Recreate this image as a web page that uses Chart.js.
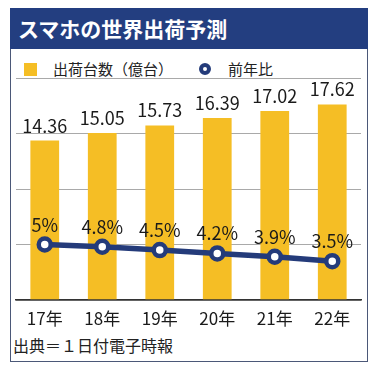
<!DOCTYPE html>
<html lang="ja">
<head>
    <meta charset="UTF-8">
    <title>スマホの世界出荷予測</title>
    <script src="https://cdn.jsdelivr.net/npm/chart.js@4/dist/chart.umd.min.js"></script>
    <style>
        body { margin: 0; background: #fff; font-family: 'Noto Sans CJK JP', sans-serif; }
        #wrap { position: relative; width: 379px; height: 369px; overflow: hidden; }
        #frame { position: absolute; left: 10px; top: 8px; width: 356px; height: 352px; border: 1px solid #4b5878; }
        #title { position: absolute; left: 10px; top: 8px; width: 358px; height: 41px; background: #233e80;
                 color: #fff; font-weight: bold; font-size: 21px; line-height: 41px; text-indent: 8px; }
        .lg { position: absolute; top: 60px; font-size: 15px; line-height: 18px; color: #222; }
        .sq { position: absolute; left: 24px; top: 63px; width: 13px; height: 13px; background: #f5be25; }
        .ring { position: absolute; left: 199px; top: 63px; width: 4px; height: 4px; border: 4px solid #243b7a; border-radius: 50%; }
        #src { position: absolute; left: 13px; top: 335px; font-size: 16px; line-height: 20px; color: #222; }
        #paint { position: absolute; left: 0; top: 0; }
    </style>
</head>
<body>
<div id="wrap">
    <div id="frame"></div>
    <div id="title">スマホの世界出荷予測</div>
    <span class="sq"></span><span class="lg" style="left:53px">出荷台数（億台）</span>
    <span class="ring"></span><span class="lg" style="left:228px">前年比</span>
    <div id="src">出典＝１日付電子時報</div>
    <canvas id="paint" width="379" height="369"></canvas>
</div>
<script>
    var years = ["17年", "18年", "19年", "20年", "21年", "22年"]
    var shipments = [14.36, 15.05, 15.73, 16.39, 17.02, 17.62]   // 億台
    var growth = [5, 4.8, 4.5, 4.2, 3.9, 3.5]                     // %
    var yTicks = [0, 5, 10, 15, 20]

    var FONT = "'Noto Sans CJK JP', sans-serif"
    var NAVY = '#243b7a'

    // 数値ラベル
    var valueLabels = {
        id: 'valueLabels',
        afterDatasetsDraw: function (chart) {
            var ctx = chart.ctx
            ctx.save()
            ctx.fillStyle = '#1a1a1a'
            ctx.font = '18px ' + FONT
            ctx.textAlign = 'center'
            ctx.textBaseline = 'alphabetic'
            chart.getDatasetMeta(1).data.forEach(function (bar, i) {
                ctx.fillText(shipments[i].toFixed(2), bar.x, bar.y - 8)
            })
            chart.getDatasetMeta(0).data.forEach(function (pt, i) {
                ctx.fillText(growth[i] + '%', pt.x, pt.y - 13)
            })
            ctx.restore()
        }
    }

    var chart = new Chart(document.getElementById("paint").getContext("2d"), {
        data: {
            labels: years,
            datasets: [{
                type: 'line',
                label: '前年比',
                data: growth,
                order: 0,
                borderColor: NAVY,
                borderWidth: 5.5,
                pointRadius: 6,
                pointBorderWidth: 4.5,
                pointBackgroundColor: '#fff',
                pointBorderColor: NAVY
            }, {
                type: 'bar',
                label: '出荷台数（億台）',
                data: shipments,
                order: 1,
                backgroundColor: '#f5be25',
                categoryPercentage: 1,
                barPercentage: 0.5
            }]
        },
        options: {
            responsive: false,
            animation: false,
            layout: { padding: { left: 16, right: 18, top: 78, bottom: 24 } },
            plugins: { legend: { display: false }, tooltip: { enabled: false } },
            scales: {
                x: {
                    grid: { display: false, drawTicks: false },
                    border: { display: true, color: '#333', width: 1.5 },
                    ticks: { color: '#1a1a1a', font: { family: FONT, size: 17 }, padding: 8 },
                    afterFit: function (s) { s.height = 45 }
                },
                y: {
                    min: yTicks[0],
                    max: yTicks[yTicks.length - 1],
                    afterBuildTicks: function (s) { s.ticks = yTicks.map(function (v) { return { value: v } }) },
                    ticks: { display: false },
                    border: { display: false },
                    grid: {
                        drawTicks: false,
                        color: function (c) { return c.tick && c.tick.value === 0 ? '#333' : '#a9a9a9' },
                        lineWidth: function (c) { return c.tick && c.tick.value === 0 ? 1.5 : 1 }
                    },
                    afterFit: function (s) { s.width = 0 }
                }
            }
        },
        plugins: [valueLabels]
    })
</script>
</body>
</html>
